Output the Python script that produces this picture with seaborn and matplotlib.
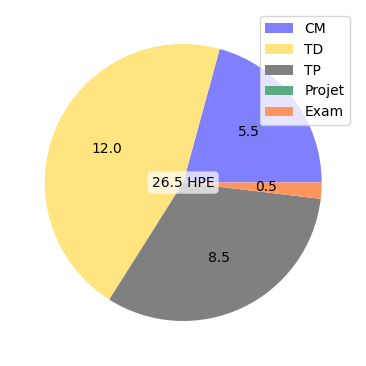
import matplotlib
matplotlib.use("Agg")
import matplotlib.pyplot as plt
import seaborn as sns

categories = ["CM", "TD", "TP", "Projet", "Exam"]
hours = [5.5, 12.0, 8.5, 0.0, 0.5]
colors = sns.color_palette(["#8080ff", "#ffe480", "#808080", "#5aaa82", "#ff965f"])

total = sum(hours)

fig = plt.figure(figsize=(3.66, 3.66), dpi=100)
ax = fig.add_axes([0, 0, 1, 1])


def show_value(pct):
    val = pct * total / 100
    return f"{val:.1f}" if val > 0 else ""


ax.pie(hours, colors=colors, autopct=show_value, startangle=0,
       textprops=dict(fontsize=10))
ax.set_aspect("equal")
ax.set_xlim(-1.323, 1.320)
ax.set_ylim(-1.325, 1.318)
ax.axis("off")

ax.text(0, 0, f"{total:.1f} HPE", ha="center", va="center", fontsize=10,
        bbox=dict(boxstyle="round", facecolor="white", edgecolor="none", alpha=0.7))

fig.legend(categories, loc="upper right", bbox_to_anchor=(0.975, 0.975))

fig.savefig("out.png", dpi=100)
